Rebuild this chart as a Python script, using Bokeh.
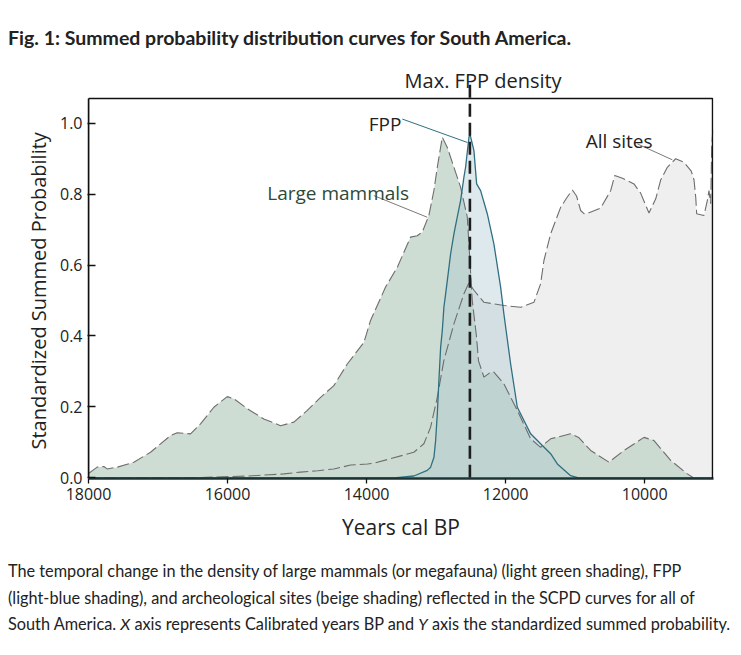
import numpy as np
from bokeh.plotting import figure
from bokeh.models import (Range1d, FixedTicker, NumeralTickFormatter, Label,
                          BoxAnnotation, Div, Title)
from bokeh.layouts import column
from bokeh.embed import file_html
from bokeh.resources import INLINE

# ---------------- data ----------------
mammal_years = [18000, 17875, 17780, 17731, 17587, 17348, 17108, 16820, 16724, 16532,
                16389, 16197, 16004, 15909, 15717, 15478, 15238, 15046, 14853, 14662,
                14471, 14278, 14039, 13943, 13727, 13558, 13367, 13271, 13199, 13104,
                13032, 12983, 12911, 12839, 12744, 12648, 12551, 12480, 12420, 12390,
                12312, 12216, 12169, 12025, 11832, 11640, 11497, 11353, 11065, 10950,
                10777, 10514, 10298, 10010, 9866, 9626, 9386, 9300]
mammal_prob = [0.012, 0.030, 0.032, 0.025, 0.030, 0.044, 0.072, 0.119, 0.127, 0.124,
               0.152, 0.199, 0.229, 0.223, 0.195, 0.166, 0.147, 0.157, 0.190, 0.227,
               0.260, 0.321, 0.382, 0.444, 0.538, 0.594, 0.679, 0.683, 0.693, 0.740,
               0.810, 0.876, 0.961, 0.932, 0.876, 0.820, 0.735, 0.500, 0.400, 0.330,
               0.284, 0.298, 0.298, 0.265, 0.190, 0.110, 0.086, 0.110, 0.124, 0.114,
               0.077, 0.044, 0.077, 0.114, 0.105, 0.049, 0.011, 0.0]

fpp_years = [18000, 13600, 13320, 13127, 13079, 13031, 13007, 12983, 12960, 12935,
             12911, 12888, 12863, 12839, 12791, 12744, 12696, 12648, 12600, 12576,
             12528, 12514, 12456, 12417, 12360, 12264, 12169, 12072, 12025, 11928,
             11832, 11640, 11353, 11256, 11065, 10950, 9020]
fpp_prob = [0.0, 0.0, 0.005, 0.021, 0.030, 0.058, 0.105, 0.180, 0.274, 0.368,
            0.415, 0.481, 0.519, 0.556, 0.632, 0.688, 0.735, 0.782, 0.848, 0.876,
            0.960, 0.970, 0.923, 0.829, 0.810, 0.745, 0.660, 0.538, 0.462, 0.321,
            0.199, 0.124, 0.068, 0.039, 0.006, 0.0, 0.0]

sites_years = [18000, 16500, 15700, 15190, 14950, 14700, 14471, 14230, 13990, 13895,
               13655, 13320, 13176, 13079, 12983, 12888, 12744, 12600, 12528, 12456,
               12312, 12025, 11784, 11593, 11497, 11449, 11353, 11209, 11120, 11040,
               10980, 10921, 10873, 10800, 10633, 10489, 10430, 10320, 10202, 10154,
               10058, 9938, 9841, 9770, 9674, 9554, 9434, 9330, 9290, 9265,
               9252, 9147, 9099, 9075, 9050, 9036, 9020]
sites_prob = [0.0, 0.0, 0.005, 0.011, 0.016, 0.020, 0.025, 0.036, 0.039, 0.041,
              0.054, 0.072, 0.096, 0.143, 0.227, 0.331, 0.434, 0.519, 0.550, 0.529,
              0.495, 0.486, 0.481, 0.495, 0.547, 0.613, 0.688, 0.763, 0.790, 0.812,
              0.795, 0.754, 0.745, 0.748, 0.761, 0.810, 0.853, 0.845, 0.834, 0.829,
              0.803, 0.747, 0.787, 0.840, 0.876, 0.900, 0.890, 0.865, 0.840, 0.790,
              0.745, 0.740, 0.782, 0.810, 0.773, 0.932, 0.980]

x_ticks = [18000, 16000, 14000, 12000, 10000]
y_ticks = [0.0, 0.2, 0.4, 0.6, 0.8, 1.0]

title_text = "Fig. 1: Summed probability distribution curves for South America."
y_title = "Standardized Summed Probability"
x_title = "Years cal BP"
caption_lines = [
    "The temporal change in the density of large mammals (or megafauna) (light green shading), FPP",
    "(light-blue shading), and archeological sites (beige shading) reflected in the SCPD curves for all of",
    "South America. <i>X</i> axis represents Calibrated years BP and <i>Y</i> axis the standardized summed probability.",
]

# peak of the FPP curve
max_fpp_year = fpp_years[int(np.argmax(fpp_prob))]

FONT = "Open Sans"
TXT = "#222222"

# ---------------- figure ----------------
p = figure(width=725, height=504, output_backend="svg", toolbar_location=None,
           x_range=Range1d(18000, 9010), y_range=Range1d(-0.002, 1.18),
           min_border_left=80, min_border_right=20, min_border_top=11,
           min_border_bottom=74, background_fill_color="white",
           border_fill_color="white", outline_line_color=None,
           margin=(0, 0, 0, 8))
p.grid.visible = False

# fills
p.varea(x=sites_years, y1=0, y2=sites_prob, fill_color="#efefef", fill_alpha=1.0)
p.varea(x=mammal_years, y1=0, y2=mammal_prob, fill_color="#c6d7cb", fill_alpha=0.85)
p.varea(x=fpp_years, y1=0, y2=fpp_prob, fill_color="#acc8d2", fill_alpha=0.4)

# outlines
p.line(sites_years, sites_prob, line_color="#6d6d6d", line_width=1.1, line_dash="12 4")
p.line(mammal_years, mammal_prob, line_color="#6d6d6d", line_width=1.1, line_dash="12 4")
p.line(fpp_years, fpp_prob, line_color="#2f6f80", line_width=1.3)

# max FPP density line
p.segment(x0=[max_fpp_year], y0=[0], x1=[max_fpp_year], y1=[1.111],
          line_color="#1e1e1e", line_width=2.6, line_dash="13 6")

# frame box (top/right)
p.add_layout(BoxAnnotation(left=18000, right=9024, bottom=-0.05, top=1.07,
                           fill_alpha=0, line_color="#111111", line_alpha=1.0,
                           line_width=1.5))

# leader lines
p.line([13486, 12551], [1.012, 0.946], line_color="#2f6f80", line_width=1)
p.line([13895, 13127], [0.796, 0.735], line_color="#7a7a7a", line_width=1)
p.line([10105, 9602], [0.942, 0.897], line_color="#7a7a7a", line_width=1)

# labels
p.add_layout(Label(x=12324, y=1.120, text="Max. FPP density", text_align="center",
                   text_baseline="alphabetic", text_font=FONT, text_font_size="20px",
                   text_color=TXT))
p.add_layout(Label(x=13500, y=0.999, text="FPP", text_align="right",
                   text_baseline="alphabetic", text_font=FONT, text_font_size="19px",
                   text_color=TXT))
p.add_layout(Label(x=15429, y=0.803, text="Large mammals", text_align="left",
                   text_baseline="alphabetic", text_font=FONT, text_font_size="19px",
                   text_color="#2c4a36"))
p.add_layout(Label(x=10849, y=0.949, text="All sites", text_align="left",
                   text_baseline="alphabetic", text_font=FONT, text_font_size="19px",
                   text_color=TXT))

# axes
xa = p.xaxis[0]
xa.ticker = FixedTicker(ticks=x_ticks)
xa.formatter = NumeralTickFormatter(format="0")
xa.axis_label = x_title
xa.axis_label_text_font = FONT
xa.axis_label_text_font_size = "21px"
xa.axis_label_text_font_style = "normal"
xa.axis_label_text_color = TXT
xa.axis_label_standoff = 10
xa.major_label_text_font = FONT
xa.major_label_text_font_size = "16px"
xa.major_label_text_color = TXT
xa.major_label_standoff = 4
xa.axis_line_color = "#1d3434"
xa.axis_line_width = 2.5
xa.major_tick_in = 0
xa.major_tick_out = 5
xa.major_tick_line_color = "#111111"
xa.major_tick_line_width = 1.3
xa.minor_tick_line_color = None

ya = p.yaxis[0]
ya.ticker = FixedTicker(ticks=y_ticks)
ya.formatter = NumeralTickFormatter(format="0.0")
ya.bounds = (0, 1.07)
ya.major_label_text_font = FONT
ya.major_label_text_font_size = "16px"
ya.major_label_text_color = TXT
ya.major_label_standoff = 5
ya.axis_line_color = "#111111"
ya.axis_line_width = 1.5
ya.major_tick_in = 7
ya.major_tick_out = 1
ya.major_tick_line_color = "#111111"
ya.major_tick_line_width = 1.3
ya.minor_tick_line_color = None

# y-axis title as a side title, starting near the bottom of the box
p.add_layout(Title(text=y_title, align="left", offset=29, text_font=FONT,
                   text_font_size="20px", text_font_style="normal",
                   text_color=TXT, standoff=9), "left")

# ---------------- page text ----------------
title_div = Div(text=title_text, width=725, height=40, margin=(8, 0, 0, 8),
                styles={"font-family": "Lato", "font-weight": "bold",
                        "font-size": "19.5px", "line-height": "20px",
                        "padding-top": "20px", "color": "#222222",
                        "white-space": "nowrap"})
caption_div = Div(text="<br>".join(caption_lines), width=725, height=100,
                  margin=(0, 0, 0, 8),
                  styles={"font-family": "Lato", "font-size": "16.3px",
                          "line-height": "26.5px", "padding-top": "6px",
                          "color": "#222222", "white-space": "nowrap"})

layout = column(title_div, p, caption_div, spacing=0)

open("out.html", "w").write(file_html(layout, INLINE))
